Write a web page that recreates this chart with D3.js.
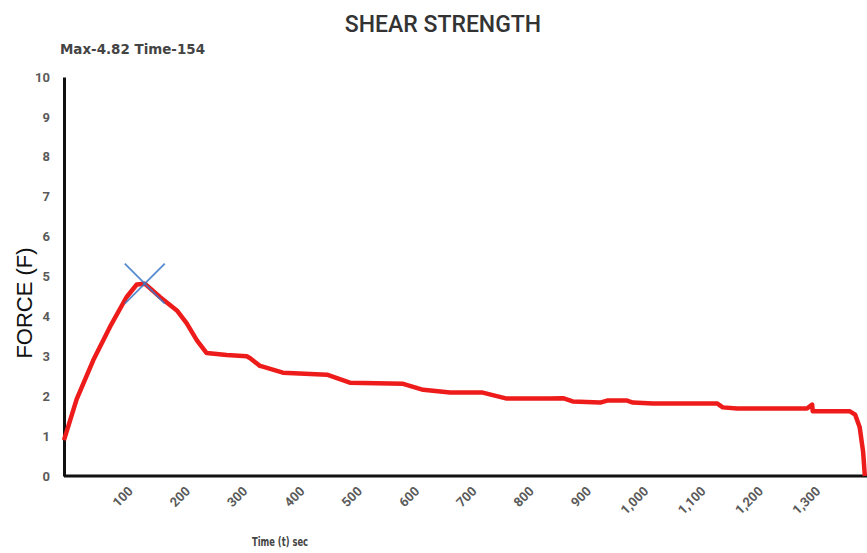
<!DOCTYPE html>
<html>
<head>
<meta charset="utf-8">
<script src="https://cdn.jsdelivr.net/npm/d3@7"></script>
<style>
  body { margin: 0; background: #fff; }
  svg { display: block; }
  .tick text { fill: #5a5a5a; font-family: Roboto, "Liberation Sans", sans-serif; font-weight: 700; font-size: 13px; }
</style>
</head>
<body>
<svg id="chart"></svg>
<script>
const width = 867, height = 553;

// shear test readings, time (s) / force (F)
const times  = [0, 22, 51, 80, 109, 127, 141, 168, 197, 214, 232, 249, 284, 319, 325, 342, 347, 382, 459, 499,
                592, 627, 674, 731, 773, 848, 871, 888, 936, 948, 983, 993, 1028, 1140, 1150, 1175, 1297, 1306,
                1307, 1372, 1381, 1389, 1395, 1398];
const forces = [0.9, 1.92, 2.9, 3.73, 4.48, 4.8, 4.82, 4.48, 4.15, 3.83, 3.4, 3.08, 3.03, 3.0, 2.95, 2.76, 2.74, 2.59, 2.54, 2.34,
                2.31, 2.16, 2.09, 2.09, 1.94, 1.94, 1.95, 1.87, 1.84, 1.89, 1.89, 1.84, 1.82, 1.82, 1.72, 1.69, 1.69, 1.79,
                1.62, 1.62, 1.54, 1.22, 0.6, 0];
const xTicks = [100, 200, 300, 400, 500, 600, 700, 800, 900, 1000, 1100, 1200, 1300];
const yTicks = [0, 1, 2, 3, 4, 5, 6, 7, 8, 9, 10];
const maxLabel = "Max-4.82 Time-154";

const data = times.map((t, i) => ({t: t, f: forces[i]}));

const svg = d3.select("#chart")
    .attr("width", width)
    .attr("height", height);

const x = d3.scaleLinear().domain([0, 1400]).range([64, 866]);
const y = d3.scaleLinear().domain([0, 10]).range([476, 77]);

// title + max note
svg.append("text")
    .attr("x", 443).attr("y", 32)
    .attr("text-anchor", "middle")
    .attr("font-family", "Roboto, 'Liberation Sans', sans-serif")
    .attr("font-weight", 500)
    .attr("font-size", 23)
    .attr("fill", "#333")
    .text("SHEAR STRENGTH");

svg.append("text")
    .attr("x", 60).attr("y", 54)
    .attr("font-family", "'Liberation Sans Narrow', 'DejaVu Sans Condensed', sans-serif")
    .attr("font-weight", 700)
    .attr("font-size", 14)
    .attr("fill", "#444")
    .attr("textLength", 145)
    .attr("lengthAdjust", "spacingAndGlyphs")
    .text(maxLabel);

// axes
const yAxis = svg.append("g")
    .attr("transform", `translate(${x(0)},0)`)
    .call(d3.axisLeft(y).tickValues(yTicks).tickSize(0).tickPadding(14));
yAxis.select(".domain").attr("stroke", "#111").attr("stroke-width", 3);

const xAxis = svg.append("g")
    .attr("transform", `translate(0,${y(0)})`)
    .call(d3.axisBottom(x).tickValues(xTicks).tickSize(0).tickFormat(d3.format(",")));
xAxis.select(".domain").attr("stroke", "#111").attr("stroke-width", 3)
    .attr("d", `M${x(0)},0H${width}`);
xAxis.selectAll(".tick text")
    .attr("text-anchor", "end")
    .attr("dy", 0)
    .attr("y", 0)
    .attr("transform", "translate(12,16) rotate(-45)");

svg.append("text")
    .attr("transform", "translate(32,303) rotate(-90)")
    .attr("text-anchor", "middle")
    .attr("font-family", "'Liberation Sans', Arial, sans-serif")
    .attr("font-size", 22)
    .attr("fill", "#111")
    .text("FORCE (F)");

svg.append("text")
    .attr("x", 280).attr("y", 546)
    .attr("text-anchor", "middle")
    .attr("font-family", "'Liberation Sans Narrow', 'DejaVu Sans Condensed', sans-serif")
    .attr("font-weight", 700)
    .attr("font-size", 12)
    .attr("fill", "#444")
    .attr("textLength", 56)
    .attr("lengthAdjust", "spacingAndGlyphs")
    .text("Time (t) sec");

// force curve
const line = d3.line()
    .x(d => x(d.t))
    .y(d => y(d.f));

svg.append("path")
    .datum(data)
    .attr("fill", "none")
    .attr("stroke", "#ee1b1b")
    .attr("stroke-width", 4.5)
    .attr("stroke-linejoin", "round")
    .attr("d", line);

// X marker at the maximum
const peak = data[d3.maxIndex(data, d => d.f)];
const px = x(peak.t), py = y(peak.f);
const arm = 20;
svg.append("g").selectAll("line")
    .data([[-1, -1, 1, 1], [1, -1, -1, 1]])
    .enter().append("line")
    .attr("x1", d => px + d[0] * arm).attr("y1", d => py + d[1] * arm)
    .attr("x2", d => px + d[2] * arm).attr("y2", d => py + d[3] * arm)
    .attr("stroke", "#3b78c8")
    .attr("stroke-opacity", 0.85)
    .attr("stroke-width", 1.8);
</script>
</body>
</html>
